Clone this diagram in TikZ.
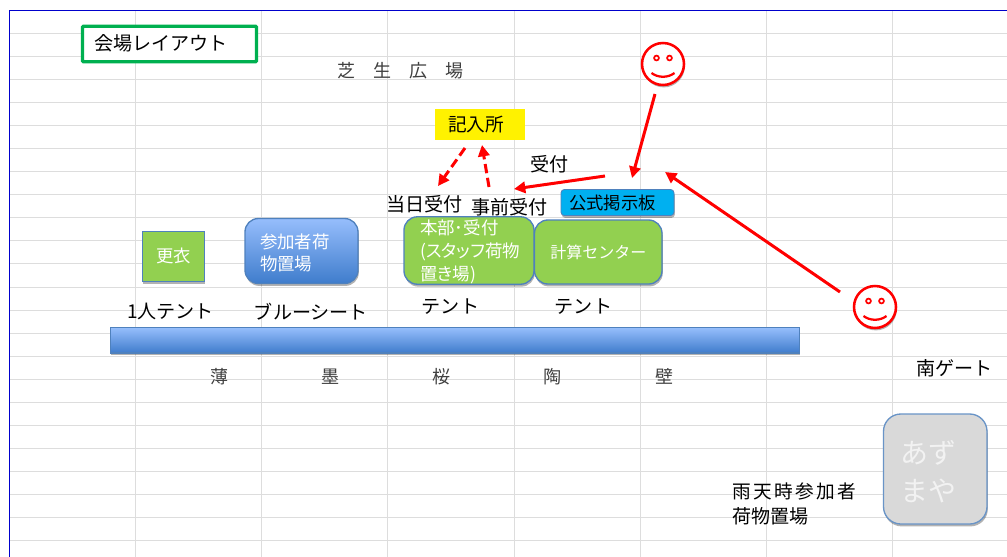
\documentclass[tikz,border=0pt]{standalone}
\usepackage{fontspec}
\setmainfont{Noto Sans CJK JP}
\usetikzlibrary{arrows.meta,shadows}
\def\pxu{0.75pt}
\definecolor{gridc}{HTML}{DDDDDD}
\definecolor{framec}{HTML}{0000CC}
\definecolor{greenb}{HTML}{00B050}
\definecolor{leaf}{HTML}{92D050}
\definecolor{edgeb}{HTML}{4F81BD}
\definecolor{skyb}{HTML}{00B0F0}
\definecolor{inkg}{HTML}{404040}
\definecolor{gradtop}{HTML}{96BEFC}
\definecolor{gradbot}{HTML}{3F7CCC}
\newcommand\fsz[1]{\fontsize{#1pt}{#1pt}\selectfont}
\tikzset{
  softshadow/.style={drop shadow={shadow xshift=0.6pt,shadow yshift=-1.8pt,opacity=.3,fill=black}},
  lbl/.style={inner sep=0pt,text height=1.15em,text depth=0.08em,font=\fsz{14.3}},
  lbllight/.style={lbl,text=inkg,font=\fsz{13.5}},
  greenbox/.style={draw=edgeb,line width=1pt,fill=leaf,text=white,inner sep=0pt,softshadow},
  bluegrad/.style={draw=edgeb,line width=1pt,top color=gradtop,bottom color=gradbot,text=white,inner sep=0pt,softshadow},
  redarrow/.style={draw=red,line width=2.25pt,-{Triangle[length=8.5pt,width=8.5pt]}},
  reddash/.style={redarrow,dash pattern=on 7pt off 3.5pt},
  face/.style={circle,draw=red,line width=1.9pt,fill=white,minimum size=42*\pxu,inner sep=0pt,softshadow},
  facepart/.style={draw=red,line width=1.3pt},
}
\newcommand\smileface[3]{%
  \node[face] (#1) at (#2,#3) {};
  \begin{scope}[shift={(#2,#3)}]
    \draw[facepart] (-6.5,-6) circle[radius=2.4];
    \draw[facepart] (6.5,-6) circle[radius=2.4];
    \draw[facepart,line width=1.7pt] (-11.5,9) .. controls (-5,14) and (5,14) .. (11.5,9);
  \end{scope}}
\begin{document}
\begin{tikzpicture}[x=0.75pt,y=-0.75pt]
\useasboundingbox (0,0) rectangle (1007,557);
\fill[white] (0,0) rectangle (1007,557);
% sheet grid
\foreach \yy in {33,56,79,102,125,148,171,194,217,240,263,287,310,333,356,379,402,425,448,471,494,517,540}
  \draw[gridc,line width=0.75pt] (10,\yy) -- (1007,\yy);
\foreach \xx in {135.5,261.5,387.5,514.5,640.5,766.5,892.5}
  \draw[gridc,line width=0.85pt] (\xx,11) -- (\xx,557);
\draw[framec,line width=0.75pt] (9.5,557) -- (9.5,10.5) -- (1007,10.5);

% title and square labels
\node[draw=greenb,line width=2.6pt,fill=white,rounded corners=0.8pt,minimum width=174*\pxu,minimum height=35.5*\pxu,inner sep=0pt] (title) at (169.5,44) {};
\node[lbl] (titletext) at (161,43) {会場レイアウト};
\node[lbllight] (lawn) at (400.5,70) {芝　生　広　場};
\node[fill=yellow,minimum width=90*\pxu,minimum height=31*\pxu,text width=64*\pxu,align=left,inner sep=0pt,font=\fsz{14},text height=1.15em,text depth=0.08em] (desk) at (480,124.5) {記入所};

% booths
\node[greenbox,minimum width=62*\pxu,minimum height=50*\pxu,font=\fsz{13},text height=1.0em,text depth=0.08em] (change) at (173.5,256.5) {更衣};
\node[bluegrad,rounded corners=10pt,minimum width=113*\pxu,minimum height=65*\pxu,text width=83*\pxu,align=left,font=\fontsize{13.1}{16.5}\selectfont] (bags) at (301.5,251) {\rule{0pt}{13.6pt}参加者荷\\物置場};
\node[greenbox,rounded corners=10pt,minimum width=130*\pxu,minimum height=64*\pxu,text width=98*\pxu,align=left,font=\fontsize{13.1}{17.2}\selectfont] (hq) at (469,250.5) {\rule{0pt}{13.6pt}本部･受付\\{\addfontfeature{RawFeature=+palt}(スタッフ荷物}\\{\addfontfeature{RawFeature=+palt}置き場)}};
\node[greenbox,rounded corners=10pt,minimum width=127.5*\pxu,minimum height=64*\pxu,font=\fsz{12}] (calc) at (598.25,252) {計算センター};
\node[draw=edgeb,line width=0.6pt,fill=skyb,rounded corners=2.5pt,minimum width=113*\pxu,minimum height=26*\pxu,text width=97*\pxu,align=left,inner sep=0pt,font=\fsz{13},softshadow] (board) at (617.5,202.5) {公式掲示板};

% wall bar
\node[bluegrad,minimum width=689*\pxu,minimum height=25.5*\pxu] (bar) at (455,340.25) {};

% labels
\node[lbl] (walkin) at (424.5,204) {当日受付};
\node[lbl] (prereg) at (509.5,207) {事前受付};
\node[lbl] (recv) at (549.5,164) {受付};
\node[lbl] (t1) at (170.5,311) {1人テント};
\node[lbl] (t2) at (311,312) {ブルーシート};
\node[lbl] (t3) at (450.5,306) {テント};
\node[lbl] (t4) at (583.5,306) {テント};
\node[lbllight] (n1) at (219.5,376) {薄};
\node[lbllight] (n2) at (330.5,376) {墨};
\node[lbllight] (n3) at (441.5,376) {桜};
\node[lbllight] (n4) at (552,376) {陶};
\node[lbllight] (n5) at (664,376) {壁};
\node[lbl] (south) at (954.5,368) {南ゲート};
\node[lbl,anchor=west,font=\addfontfeature{LetterSpace=13}\fsz{14}] (rain) at (732,491) {雨天時参加者};
\node[lbl,anchor=west] (rain2) at (732,516) {荷物置場};
\node[draw=edgeb!85!white,line width=1pt,fill=black!15,rounded corners=13pt,minimum width=103.5*\pxu,minimum height=110*\pxu,text width=69*\pxu,align=left,inner sep=0pt,text=white!95!black,font=\fontsize{21}{28.5}\selectfont,softshadow] (azumaya) at (935.25,469) {\rule{0pt}{22pt}あず\\まや};

% smileys
\smileface{faceA}{663}{64}
\smileface{faceB}{875}{307}

% arrow ends
\coordinate (a1s) at (465,148); \coordinate (a1e) at (438,186);
\coordinate (a2s) at (489,187); \coordinate (a2e) at (482,145);
\coordinate (a3s) at (605,176); \coordinate (a3e) at (514,189);
\coordinate (a4s) at (655,94);  \coordinate (a4e) at (632,178);
\coordinate (a5s) at (840,292); \coordinate (a5e) at (665,172);
\draw[reddash] (a1s) -- (a1e);
\draw[reddash] (a2s) -- (a2e);
\draw[redarrow] (a3s) -- (a3e);
\draw[redarrow] (a4s) -- (a4e);
\draw[redarrow] (a5s) -- (a5e);
\end{tikzpicture}
\end{document}
